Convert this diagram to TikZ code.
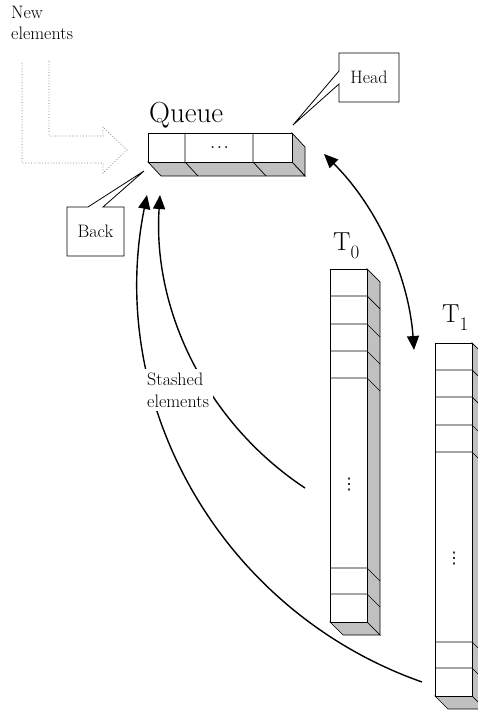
\documentclass[tikz,border=0pt]{standalone}
\usepackage{fontspec}
\newfontfamily\dvsym{DejaVu Sans}
\usetikzlibrary{arrows.meta}
\definecolor{shadegray}{RGB}{192,192,192}
\tikzset{
  edge/.style={draw=black, line width=0.7pt},
  facefill/.style={draw=black, line width=0.7pt, fill=white},
  sidefill/.style={draw=black, line width=0.7pt, fill=shadegray},
  lbl/.style={font=\fontsize{18}{21.5}\selectfont, inner sep=0pt, align=left},
  boxlbl/.style={font=\fontsize{18}{21}\selectfont, inner sep=0pt},
  bigt/.style={font=\fontsize{26}{30}\selectfont, inner sep=0pt, anchor=base west},
  calloutline/.style={draw=black, line width=0.8pt, fill=white},
  flow/.style={line width=1.4pt, -{Triangle[length=14pt,width=12pt]}},
  bothflow/.style={line width=1.4pt, {Triangle[length=14pt,width=12pt]}-{Triangle[length=14pt,width=12pt]}},
  newpath/.style={draw=black!55, dotted, line width=0.8pt},
  vd/.style={font=\dvsym\fontsize{16}{16}\selectfont, inner sep=0pt},
}
\newcommand\drawcolumn[5]{%
  \draw[sidefill] (#2,#3) -- (#2+13,#3+13) -- (#2+13,#4+13) -- (#2,#4) -- cycle;
  \draw[sidefill] (#1,#4) -- (#2,#4) -- (#2+13,#4+13) -- (#1+13,#4+13) -- cycle;
  \draw[facefill] (#1,#3) rectangle (#2,#4);
  \foreach \yy in {#5} { \draw[edge] (#1,\yy) -- (#2,\yy) -- (#2+13,\yy+13); }
}
\begin{document}
\begin{tikzpicture}[x=1pt,y=-1pt]
\useasboundingbox (0,0) rectangle (478,711);
\clip (0,0) rectangle (478,711);

% New elements
\node[lbl, anchor=north west] (newel) at (11,6) {New\\elements};
\draw[newpath] (49,61) -- (49,136) -- (103,136) -- (103,127) -- (127,150)
  -- (103,173) -- (103,163) -- (22,163) -- (22,61);

% Queue
\draw[sidefill] (292,133) -- (305,147) -- (305,176) -- (292,162) -- cycle;
\draw[sidefill] (148,162) -- (292,162) -- (305,176) -- (161,176) -- cycle;
\draw[facefill] (148,133) rectangle (292,162);
\foreach \xx in {185,253} { \draw[edge] (\xx,133) -- (\xx,162) -- (\xx+13,176); }
\node[font=\fontsize{23}{23}\selectfont, inner sep=0pt, anchor=base] (qdots) at (219.5,149) {.\kern1.1pt.\kern1.1pt.};
\node[font=\fontsize{29}{34}\selectfont, inner sep=0pt, anchor=base west] (queue) at (149,123) {Queue};

\coordinate (qhead) at (293,125);
\coordinate (qback) at (144,171);
\coordinate (qright) at (324,154);
\coordinate (qin1) at (160,195);
\coordinate (qin2) at (147,195);

% Head callout
\draw[calloutline] (339,71) -- (339,53) -- (399,53) -- (399,102) -- (339,102) -- (339,84) -- (qhead) -- cycle;
\node[boxlbl] (head) at (369,77.5) {Head};

% Back callout
\draw[calloutline] (88,207) -- (67,207) -- (67,256) -- (124,256) -- (124,207) -- (103,207) -- (qback) -- cycle;
\node[boxlbl] (back) at (95.5,231.5) {Back};

% T0 column
\drawcolumn{330}{367}{269}{622}{296,324,351,378,568,594}
\node[vd] (v0) at (349,485) {⋮};
\node[bigt] (t0) at (333,250) {T\raisebox{-9pt}{\fontsize{19}{19}\selectfont 0}};
\coordinate (t0out) at (305,488);

% T1 column
\drawcolumn{435}{472}{343}{696}{370,397,425,452,642,668}
\node[vd] (v1) at (454,559) {⋮};
\node[bigt] (t1) at (442,322) {T\raisebox{-8pt}{\fontsize{19}{19}\selectfont 1}};
\coordinate (t1top) at (414,350);
\coordinate (t1out) at (422,682);

% arrows
\draw[bothflow] (qright) .. controls (376.7,206.2) and (408.7,276) .. (t1top);
\draw[flow] (t0out) .. controls (207.5,423.5) and (152.3,311.6) .. (qin1);
\draw[flow] (t1out) .. controls (221.2,611.3) and (104.9,403.7) .. (qin2);

\node[lbl, fill=white, inner sep=4pt, anchor=north west] (stash) at (143,369) {Stashed\\elements};
\end{tikzpicture}
\end{document}
